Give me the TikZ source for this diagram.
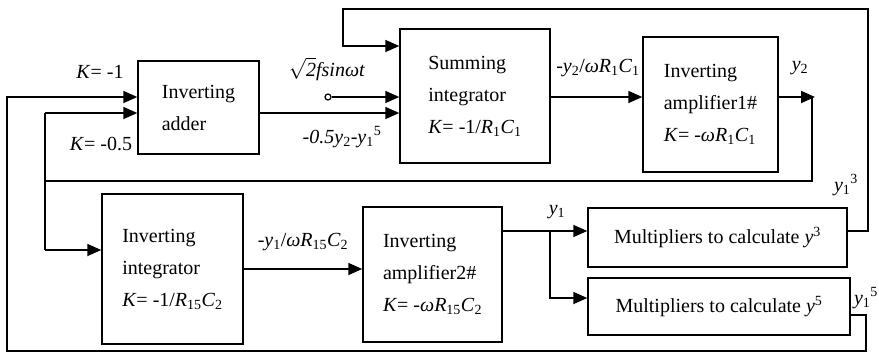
\documentclass[tikz,border=0pt]{standalone}
\usepackage{fontspec}
\setmainfont{Liberation Serif}
\usetikzlibrary{arrows.meta}

\begin{document}
\begin{tikzpicture}[x=1pt,y=-1pt,
	every node/.style={font=\fontsize{20}{32}\selectfont},
	block/.style={draw=black,line width=1.5pt,align=left,inner sep=0pt},
	flow/.style={line width=1.8pt,-{Triangle[length=14pt,width=12pt]}},
	wire/.style={line width=1.8pt}]
	\useasboundingbox (0,0) rectangle (879,354);

	\node[block,minimum width=121pt,minimum height=93pt]  (adder) at (198.5,107.5) {Inverting\\adder};
	\node[block,minimum width=150pt,minimum height=134pt] (summ)  at (475,96)      {Summing\\ integrator\\\textit{K}= -1/\textit{R}\textsubscript{1}\textit{C}\textsubscript{1}};
	\node[block,minimum width=135pt,minimum height=135pt] (amp1)  at (710.5,104.5) {Inverting\\amplifier1\#\\\textit{K}= -\textit{ωR}\textsubscript{1}\textit{C}\textsubscript{1}};
	\node[block,minimum width=141pt,minimum height=150pt] (integ) at (172.5,269)   {Inverting\\ integrator\\\textit{K}= -1/\textit{R}\textsubscript{15}\textit{C}\textsubscript{2}};
	\node[block,minimum width=139pt,minimum height=135pt] (amp2)  at (432.5,274.5) {Inverting\\amplifier2\#\\\textit{K}= -\textit{ωR}\textsubscript{15}\textit{C}\textsubscript{2}};
	\node[block,minimum width=259pt,minimum height=59pt]  (multA) at (717.5,237.5) {Multipliers to calculate \textit{y}\textsuperscript{3}};
	\node[block,minimum width=262pt,minimum height=57pt]  (multB) at (719,306.5)   {Multipliers to calculate \textit{y}\textsuperscript{5}};
	\node[shape=circle,draw=black,line width=1.2pt,inner sep=0pt,minimum size=6pt] (src) at (328,97) {};

	% labels
	\node (kone)     at (100,72)  {\textit{K}= -1};
	\node (khalf)    at (101,144) {\textit{K}= -0.5};
	\node (srclbl)   at (327,69)  {$\sqrt{\mbox{\textit{2}}}$\textit{fsinωt}};
	\node (sumlbl)   at (342,137) {\textit{-0.5y}\textsubscript{2}\textit{-y}\textsubscript{1}\textsuperscript{5}};
	\node (y2out)    at (598,68)  {\textit{-y}\textsubscript{2}/\textit{ωR}\textsubscript{1}\textit{C}\textsubscript{1}};
	\node (y2lbl)    at (800,68)  {\textit{y}\textsubscript{2}};
	\node (y1out)    at (303,242) {\textit{-y}\textsubscript{1}/\textit{ωR}\textsubscript{15}\textit{C}\textsubscript{2}};
	\node (y1lbl)    at (557,212) {\textit{y}\textsubscript{1}};
	\node (cubelbl)  at (846,185) {\textit{y}\textsubscript{1}\textsuperscript{3}};
	\node (fifthlbl) at (866,298) {\textit{y}\textsubscript{1}\textsuperscript{5}};

	% bends
	\coordinate (fbA) at (7,97);
	\coordinate (fbB) at (7,351);
	\coordinate (fbC) at (866,351);
	\coordinate (fbD) at (866,315);
	\coordinate (kB) at (45,113);
	\coordinate (kC) at (45,181);
	\coordinate (kD) at (45,250);
	\coordinate (y2A) at (812,97);
	\coordinate (y2B) at (812,181);
	\coordinate (y2tip) at (815,97);
	\coordinate (cuA) at (868,231);
	\coordinate (cuB) at (868,9);
	\coordinate (cuC) at (343,9);
	\coordinate (cuD) at (343,46);
	\coordinate (brA) at (550,231);
	\coordinate (brB) at (550,298);

	\draw[flow] (multB.east |- fbD) -- (fbD) -- (fbC) -- (fbB) -- (fbA) -- (adder.west |- fbA);
	\draw[flow] (kB) -- (adder.west |- kB);
	\draw[wire] (kB) -- (kD);
	\draw[flow] (kD) -- (integ.west |- kD);
	\draw[flow] (adder.east |- kB) -- (summ.west |- kB);
	\draw[flow] (src) -- (summ.west |- src);
	\draw[flow] (multA.east |- cuA) -- (cuA) -- (cuB) -- (cuC) -- (cuD) -- (summ.west |- cuD);
	\draw[flow] (summ.east |- y2A) -- (amp1.west |- y2A);
	\draw[flow] (amp1.east |- y2A) -- (y2tip);
	\draw[wire] (y2A) -- (y2B) -- (kC);
	\draw[flow] (integ.east) -- (integ.east -| amp2.west);
	\draw[flow] (amp2.east |- brA) -- (multA.west |- brA);
	\draw[flow] (brA) -- (brB) -- (multB.west |- brB);
\end{tikzpicture}
\end{document}
